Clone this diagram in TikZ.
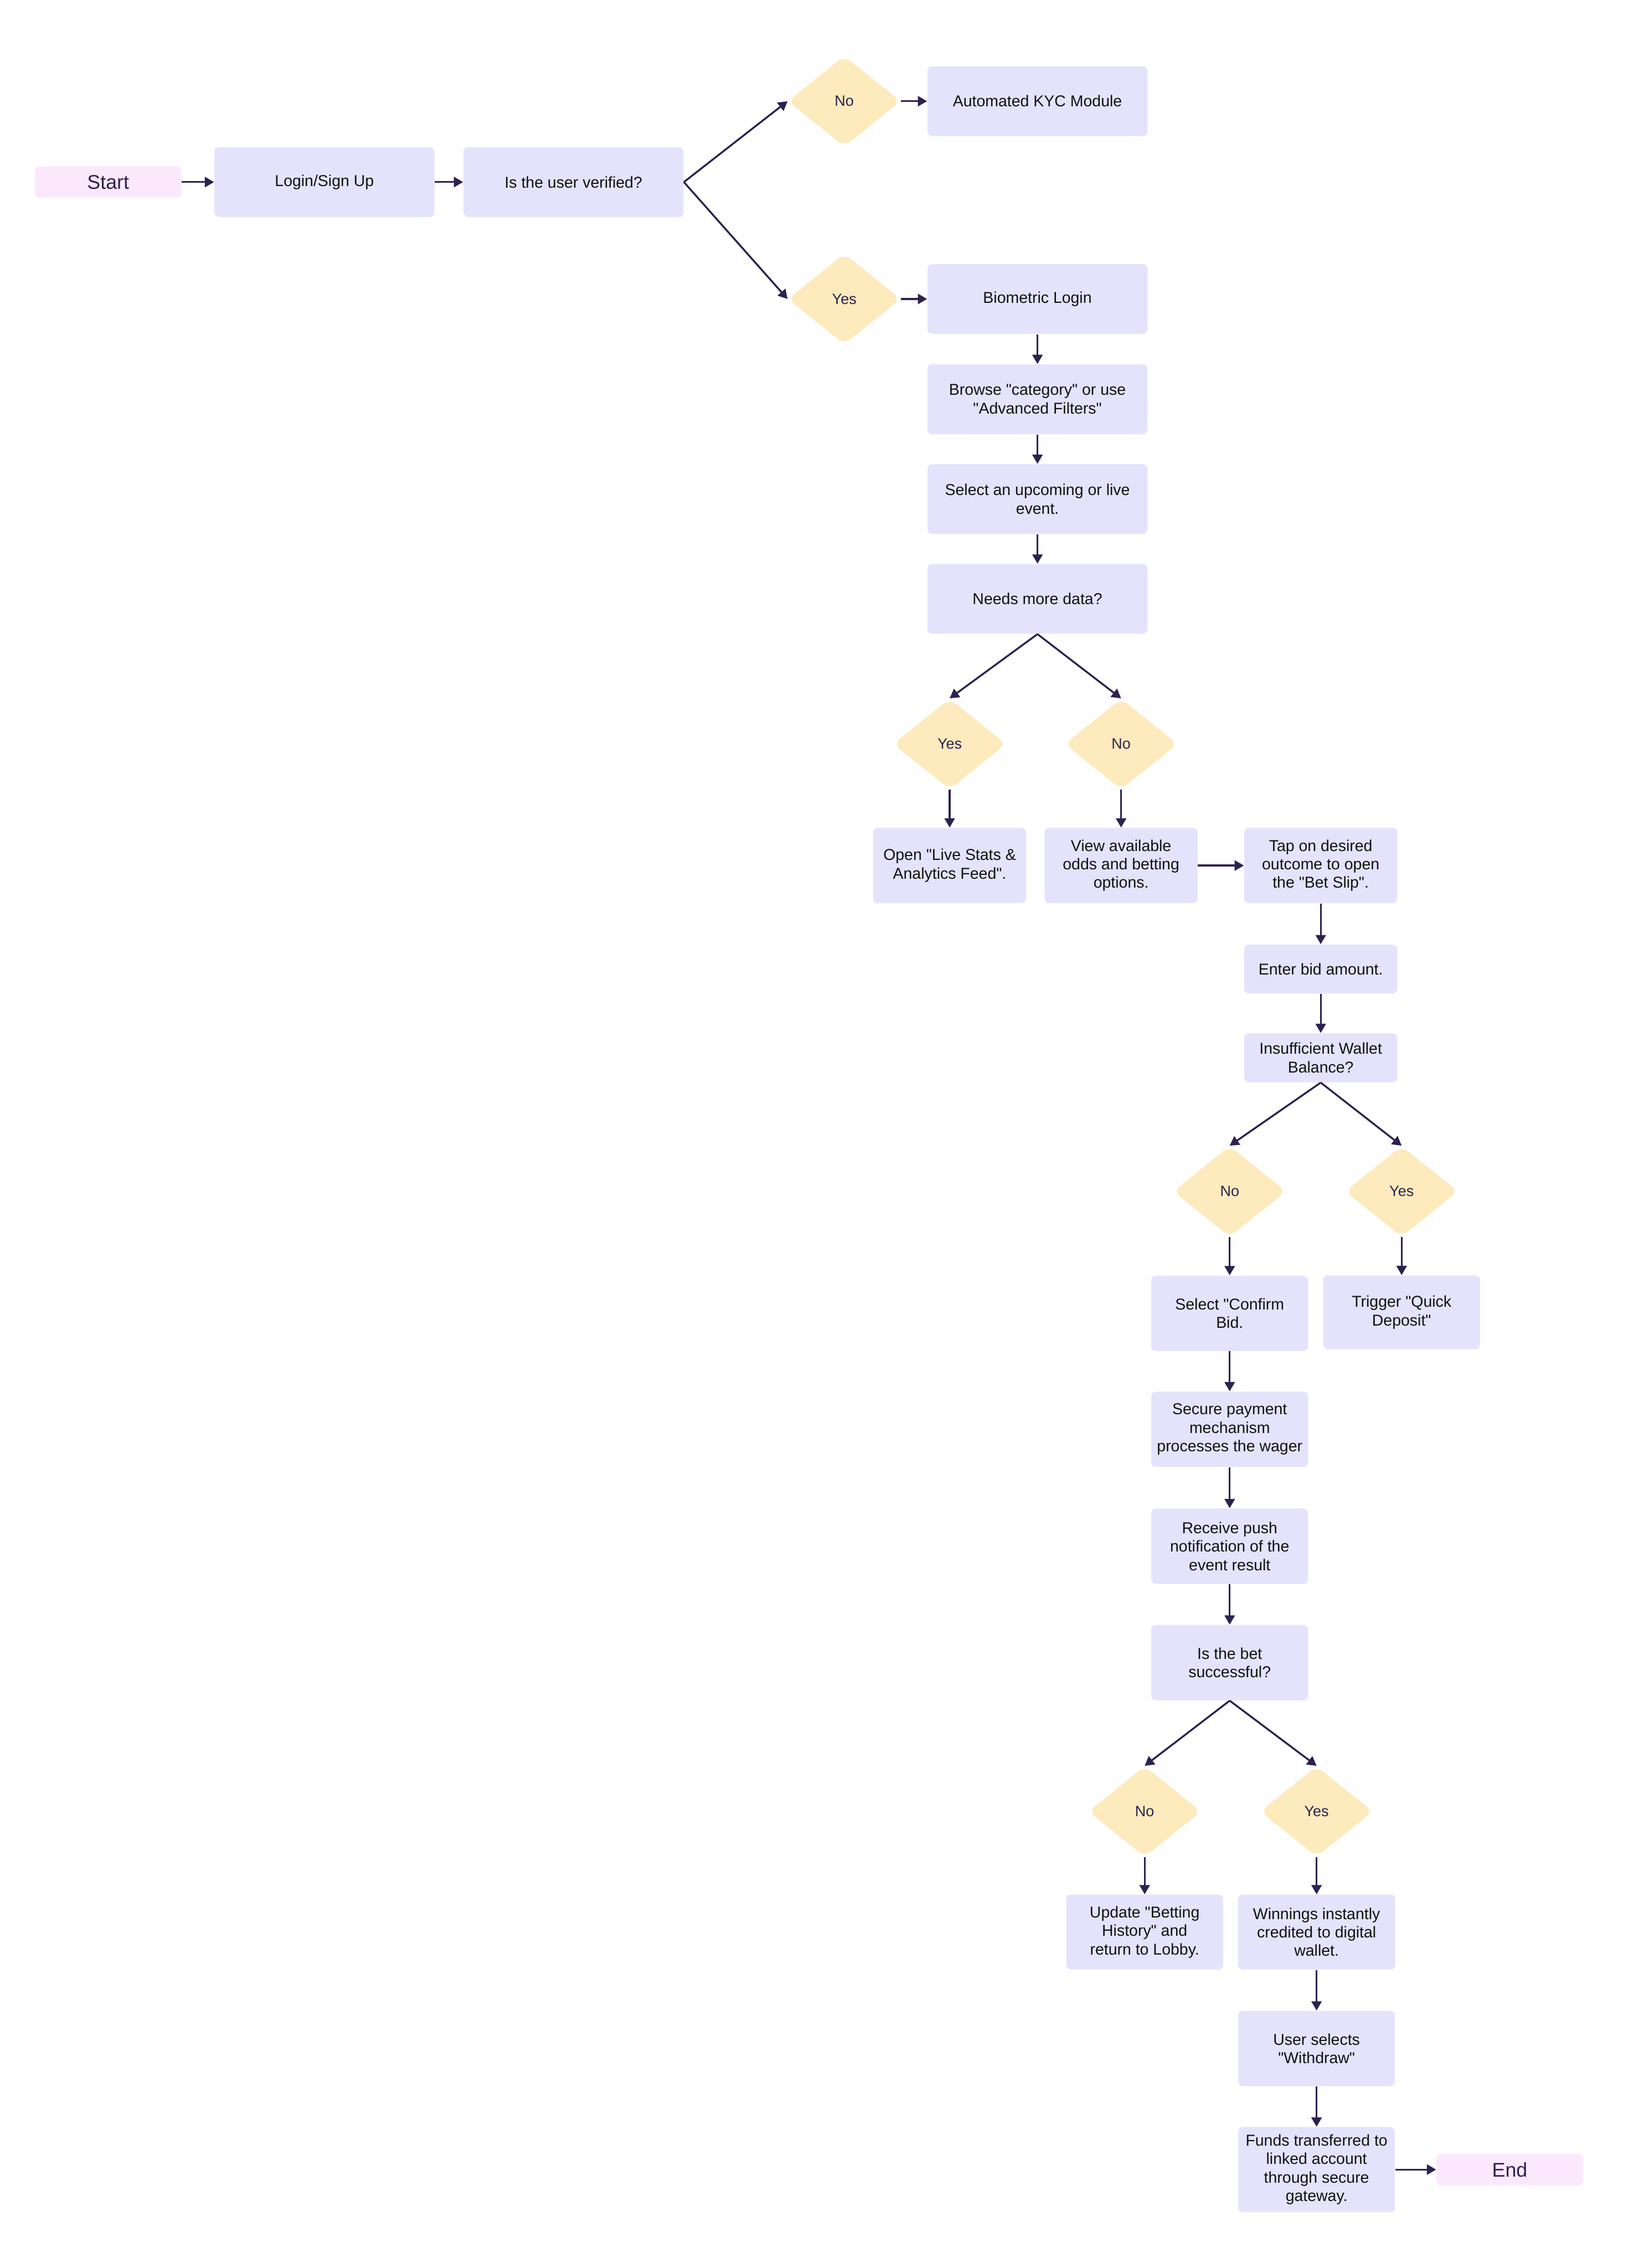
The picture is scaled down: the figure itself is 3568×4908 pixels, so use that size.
\documentclass[tikz,border=0pt]{standalone}
\usepackage{fontspec}
\setmainfont{Liberation Sans}[Ligatures=TeXOff]
\usetikzlibrary{arrows.meta,shapes.geometric}
\definecolor{boxfill}{HTML}{E5E3FC}
\definecolor{decfill}{HTML}{FDEABD}
\definecolor{termfill}{HTML}{FCE8FC}
\definecolor{linecol}{HTML}{2D2150}
\definecolor{txtcol}{HTML}{111111}
\begin{document}
\begin{tikzpicture}[x=0.01cm,y=-0.01cm,
 proc/.style={rectangle, rounded corners=0.1cm, fill=boxfill, inner sep=0pt, align=center, text=txtcol, font=\fontsize{9.7}{11.4}\selectfont},
 wide/.style={minimum width=4.76cm, minimum height=1.51cm},
 narrow/.style={minimum width=3.39cm, minimum height=1.63cm},
 dec/.style={diamond, rounded corners=0.18cm, fill=decfill, inner sep=0pt, minimum width=2.44cm, minimum height=1.96cm, text=linecol, font=\fontsize{9.2}{10}\selectfont},
 term/.style={rectangle, rounded corners=0.1cm, fill=termfill, inner sep=0pt, minimum width=3.17cm, minimum height=0.68cm, text=linecol, font=\fontsize{12.2}{14}\selectfont},
 flow/.style={draw=linecol, line width=0.04cm, -{Triangle[length=0.2cm,width=0.22cm]}}
]
\fill[white] (0,0) rectangle (3568,4908);
\useasboundingbox (0,0) rectangle (3568,4908);

% top row
\node[term] (start) at (234,394) {Start};
\node[proc, wide] (login) at (702,394) {Login/Sign Up};
\node[proc, wide] (verify) at (1241,394) {Is the user verified?};
\node[dec] (kycno) at (1827,219) {No};
\node[proc, wide] (kyc) at (2245,219) {Automated KYC Module};
\node[dec] (kycyes) at (1827,647) {Yes};
\node[proc, wide] (bio) at (2245,647) {Biometric Login};
\node[proc, wide] (browse) at (2245,864) {Browse "category" or use\\"Advanced Filters"};
\node[proc, wide] (select) at (2245,1080) {Select an upcoming or live\\event.};
\node[proc, wide] (needs) at (2245,1296) {Needs more data?};

% first decision
\node[dec] (d1yes) at (2055,1610) {Yes};
\node[dec] (d1no) at (2426,1610) {No};
\node[proc, minimum width=3.31cm, minimum height=1.63cm] (live) at (2055,1873) {Open "Live Stats \&\\Analytics Feed".};
\node[proc, minimum width=3.31cm, minimum height=1.63cm] (view) at (2426,1873) {View available\\odds and betting\\options.};
\node[proc, minimum width=3.31cm, minimum height=1.63cm] (tap) at (2858,1873) {Tap on desired\\outcome to open\\the "Bet Slip".};
\node[proc, minimum width=3.31cm, minimum height=1.06cm] (enter) at (2858,2097) {Enter bid amount.};
\node[proc, minimum width=3.31cm, minimum height=1.06cm] (insuff) at (2858,2289) {Insufficient Wallet\\Balance?};

% second decision
\node[dec] (d2no) at (2661,2578) {No};
\node[dec] (d2yes) at (3033,2578) {Yes};
\node[proc, narrow] (confirm) at (2661,2842) {Select "Confirm\\Bid.};
\node[proc, minimum width=3.39cm, minimum height=1.60cm] (trigger) at (3033,2840) {Trigger "Quick\\Deposit"};
\node[proc, narrow] (secure) at (2661,3093) {Secure payment\\mechanism\\processes the wager};
\node[proc, narrow] (receive) at (2661,3346) {Receive push\\notification of the\\event result};
\node[proc, narrow] (bet) at (2661,3598) {Is the bet\\successful?};

% third decision
\node[dec] (d3no) at (2477,3920) {No};
\node[dec] (d3yes) at (2849,3920) {Yes};
\node[proc, minimum width=3.39cm, minimum height=1.62cm] (update) at (2477,4181) {Update "Betting\\History" and\\return to Lobby.};
\node[proc, minimum width=3.40cm, minimum height=1.62cm] (win) at (2849,4181) {Winnings instantly\\credited to digital\\wallet.};
\node[proc, narrow] (user) at (2849,4433) {User selects\\"Withdraw"};
\node[proc, minimum width=3.39cm, minimum height=1.84cm] (funds) at (2849,4695) {Funds transferred to\\linked account\\through secure\\gateway.};
\node[term] (end) at (3267,4695) {End};

% connectors
\draw[flow] (start) -- (login);
\draw[flow] (login) -- (verify);
\draw[flow] (verify.east) -- (kycno.west);
\draw[flow] (verify.east) -- (kycyes.west);
\draw[flow] (kycno) -- (kyc);
\draw[flow] (kycyes) -- (bio);
\draw[flow] (bio) -- (browse);
\draw[flow] (browse) -- (select);
\draw[flow] (select) -- (needs);
\draw[flow] (needs.south) -- (d1yes.north);
\draw[flow] (needs.south) -- (d1no.north);
\draw[flow] (d1yes) -- (live);
\draw[flow] (d1no) -- (view);
\draw[flow] (view) -- (tap);
\draw[flow] (tap) -- (enter);
\draw[flow] (enter) -- (insuff);
\draw[flow] (insuff.south) -- (d2no.north);
\draw[flow] (insuff.south) -- (d2yes.north);
\draw[flow] (d2no) -- (confirm);
\draw[flow] (d2yes) -- (trigger);
\draw[flow] (confirm) -- (secure);
\draw[flow] (secure) -- (receive);
\draw[flow] (receive) -- (bet);
\draw[flow] (bet.south) -- (d3no.north);
\draw[flow] (bet.south) -- (d3yes.north);
\draw[flow] (d3no) -- (update);
\draw[flow] (d3yes) -- (win);
\draw[flow] (win) -- (user);
\draw[flow] (user) -- (funds);
\draw[flow] (funds) -- (end);
\end{tikzpicture}
\end{document}
